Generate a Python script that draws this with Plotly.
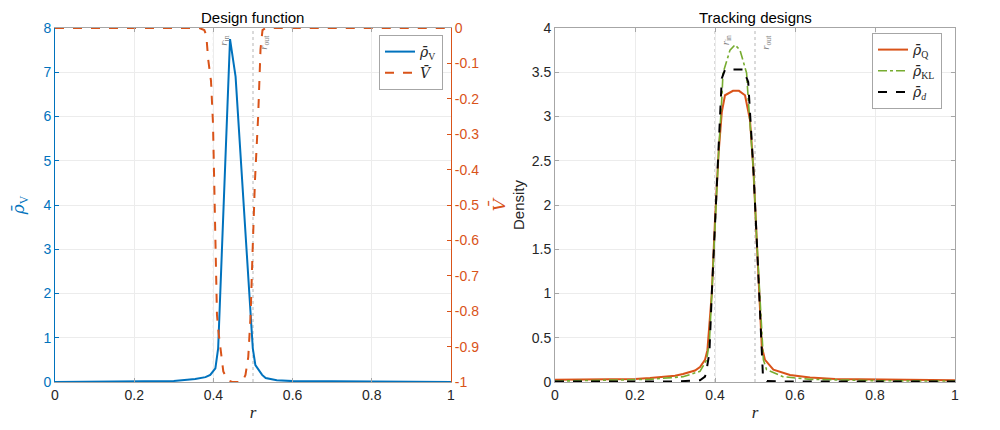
import plotly.graph_objects as go

# ---- left panel: design function ----
r_rho_v = [0, 0.1, 0.2, 0.3, 0.354, 0.38, 0.392, 0.405, 0.412, 0.442, 0.456,
           0.4995, 0.506, 0.523, 0.532, 0.56, 0.6, 0.7, 0.8, 0.9, 1.0]
rho_v = [0.002, 0.005, 0.01, 0.025, 0.07, 0.11, 0.16, 0.31, 0.76, 7.75, 6.9,
         0.76, 0.38, 0.16, 0.09, 0.04, 0.02, 0.01, 0.005, 0.003, 0.002]

r_v = [0, 0.3646, 0.377, 0.382, 0.387, 0.394, 0.399, 0.404, 0.409, 0.413, 0.418,
       0.425, 0.435, 0.447, 0.473, 0.481, 0.488, 0.491, 0.494, 0.499, 0.505,
       0.513, 0.516, 0.519, 0.524, 0.532, 1.0]
v = [0, 0, -0.006, -0.02, -0.09, -0.15, -0.27, -0.54, -0.81, -0.86, -0.9,
     -0.97, -0.994, -1, -1, -0.98, -0.93, -0.87, -0.81, -0.63, -0.43,
     -0.25, -0.15, -0.06, -0.006, 0, 0]

# ---- right panel: tracking designs ----
r_q = [0, 0.1, 0.2, 0.2375, 0.3, 0.32, 0.35, 0.3625, 0.375, 0.381, 0.392, 0.4,
       0.409, 0.417, 0.425, 0.445, 0.46, 0.475, 0.4875, 0.496, 0.504, 0.5125,
       0.517, 0.525, 0.546, 0.5875, 0.6375, 0.7, 0.8, 0.9, 1.0]
rho_q = [0.025, 0.028, 0.035, 0.045, 0.07, 0.09, 0.13, 0.17, 0.25, 0.36, 1.0, 1.83,
         2.59, 3.05, 3.24, 3.29, 3.29, 3.24, 2.96, 2.4, 1.64, 0.89,
         0.4, 0.25, 0.14, 0.08, 0.05, 0.035, 0.028, 0.022, 0.02]

r_kl = [0, 0.2, 0.2375, 0.32, 0.3625, 0.379, 0.386, 0.392, 0.4, 0.409, 0.417,
        0.42, 0.4375, 0.45, 0.4625, 0.479, 0.483, 0.496, 0.504, 0.5125, 0.517,
        0.521, 0.529, 0.57, 0.6375, 0.8, 1.0]
rho_kl = [0.01, 0.02, 0.03, 0.06, 0.12, 0.25, 0.45, 1.0, 1.83, 2.59, 3.2,
          3.49, 3.75, 3.81, 3.75, 3.49, 3.2, 2.4, 1.64, 0.89, 0.45,
          0.25, 0.14, 0.06, 0.03, 0.015, 0.01]

r_d = [0, 0.3, 0.3625, 0.375, 0.379, 0.386, 0.392, 0.4, 0.409, 0.417, 0.425,
       0.471, 0.483, 0.496, 0.504, 0.5125, 0.517, 0.52, 0.53, 0.6, 1.0]
rho_d = [0.005, 0.005, 0.02, 0.06, 0.14, 0.33, 1.0, 1.83, 2.59, 3.43, 3.53,
         3.53, 3.39, 2.4, 1.64, 0.89, 0.35, 0.06, 0.01, 0.005, 0.005]

r_in, r_out = 0.4, 0.5

rho_ticks = [0, 1, 2, 3, 4, 5, 6, 7, 8]
v_ticks = [0, -0.1, -0.2, -0.3, -0.4, -0.5, -0.6, -0.7, -0.8, -0.9, -1]
v_ticktext = ['0', '-0.1', '-0.2', '-0.3', '-0.4', '-0.5', '-0.6', '-0.7', '-0.8', '-0.9', '-1']
dens_ticks = [0, 0.5, 1, 1.5, 2, 2.5, 3, 3.5, 4]
x_ticks = [0, 0.2, 0.4, 0.6, 0.8, 1]

BLUE = '#0072BD'
ORANGE = '#D95319'
GREEN = '#77AC30'
AXC = '#a6a6a6'
TXT = '#262626'
GRID = '#ececec'
SANS = 'Liberation Sans, Arial, sans-serif'
SERIF = 'Liberation Serif, Times New Roman, serif'
RHOBAR = '<span style="font-family:DejaVu Serif"><i>ρ̄</i></span>'
VBAR = '<span style="font-family:DejaVu Serif"><i>V̄</i></span>'

# page pixel positions (the html body adds an 8px offset, compensated here)
OFF = 8
ML, MT = 55 - OFF, 28 - OFF
MB = 430 - (382 - OFF)
MR = 1000 - (955 - OFF)
PW = 1000 - ML - MR
PH = 430 - MT - MB


def px_x(p):
    return (p - OFF - ML) / PW


def px_y(p):
    return (430 - MB - (p - OFF)) / PH


fig = go.Figure()

fig.add_trace(go.Scatter(x=r_rho_v, y=rho_v, mode='lines', name=RHOBAR + '<sub>V</sub>',
                         line=dict(color=BLUE, width=2), xaxis='x', yaxis='y', legend='legend'))
fig.add_trace(go.Scatter(x=r_v, y=v, mode='lines', name=VBAR,
                         line=dict(color=ORANGE, width=2, dash='dash'), xaxis='x', yaxis='y2',
                         legend='legend'))

fig.add_trace(go.Scatter(x=r_q, y=rho_q, mode='lines', name=RHOBAR + '<sub>Q</sub>',
                         line=dict(color=ORANGE, width=2), xaxis='x2', yaxis='y3', legend='legend2'))
fig.add_trace(go.Scatter(x=r_kl, y=rho_kl, mode='lines', name=RHOBAR + '<sub>KL</sub>',
                         line=dict(color=GREEN, width=1.6, dash='dashdot'), xaxis='x2', yaxis='y3',
                         legend='legend2'))
fig.add_trace(go.Scatter(x=r_d, y=rho_d, mode='lines', name=RHOBAR + '<sub><i>d</i></sub>',
                         line=dict(color='black', width=2, dash='dash'), xaxis='x2', yaxis='y3',
                         legend='legend2'))

xcommon = dict(range=[0, 1], tickvals=x_ticks, showgrid=True, gridcolor=GRID, zeroline=False,
               showline=True, linecolor=AXC, linewidth=1, mirror='ticks', ticks='inside',
               ticklen=4, tickcolor=AXC, tickfont=dict(family=SANS, size=14, color=TXT),
               automargin=False,
               title=dict(text='<i>r</i>', font=dict(family=SERIF, size=17, color=TXT), standoff=4))

fig.update_layout(
    width=1000, height=430, autosize=False,
    margin=dict(l=ML, r=MR, t=MT, b=MB, autoexpand=False),
    paper_bgcolor='white', plot_bgcolor='white',
    xaxis=dict(domain=[0, px_x(451)], anchor='y', **xcommon),
    yaxis=dict(domain=[0, 1], anchor='x', range=[0, 8], tickvals=rho_ticks, showgrid=True,
               gridcolor=GRID, zeroline=False, showline=True, linecolor=BLUE, linewidth=1,
               ticks='inside', ticklen=4, tickcolor=BLUE, automargin=False,
               tickfont=dict(family=SANS, size=14, color=BLUE),
               title=dict(text=RHOBAR + '<sub>V</sub>', font=dict(family=SERIF, size=17, color=BLUE),
                          standoff=16)),
    yaxis2=dict(overlaying='y', side='right', anchor='x', range=[-1, 0], tickvals=v_ticks,
                ticktext=v_ticktext, showgrid=False, zeroline=False, showline=True,
                linecolor=ORANGE, linewidth=1, ticks='inside', ticklen=4, tickcolor=ORANGE,
                automargin=False, tickfont=dict(family=SANS, size=14, color=ORANGE),
                title=dict(text=VBAR, font=dict(family=SERIF, size=17, color=ORANGE),
                           standoff=14)),
    xaxis2=dict(domain=[px_x(555), 1], anchor='y3', **xcommon),
    yaxis3=dict(domain=[0, 1], anchor='x2', range=[0, 4], tickvals=dens_ticks, showgrid=True,
                gridcolor=GRID, zeroline=False, showline=True, linecolor=AXC, linewidth=1,
                mirror='ticks', ticks='inside', ticklen=4, tickcolor=AXC, automargin=False,
                tickfont=dict(family=SANS, size=14, color=TXT),
                title=dict(text='Density', font=dict(family=SANS, size=15, color=TXT), standoff=3)),
    legend=dict(x=px_x(443), y=px_y(35), xanchor='right', yanchor='top', bgcolor='white',
                bordercolor=AXC, borderwidth=1, font=dict(family=SERIF, size=14, color=TXT),
                tracegroupgap=0, itemwidth=30),
    legend2=dict(x=px_x(942), y=px_y(33), xanchor='right', yanchor='top', bgcolor='white',
                 bordercolor=AXC, borderwidth=1, font=dict(family=SERIF, size=14, color=TXT),
                 tracegroupgap=0, itemwidth=30),
    showlegend=True,
)

# reference lines r_in / r_out with labels
for xa, ya in [('x', 'y'), ('x2', 'y3')]:
    for xv, lab in [(r_in, 'in'), (r_out, 'out')]:
        fig.add_shape(type='line', xref=xa, yref=ya + ' domain', x0=xv, x1=xv, y0=0, y1=1,
                      line=dict(color='#b5b5b5', width=1, dash='dot'), layer='below')
        fig.add_annotation(xref=xa, yref=ya + ' domain', x=xv, y=0.985, xanchor='left',
                           yanchor='top', xshift=2, showarrow=False, textangle=-90,
                           text='<i>r</i><sub>' + lab + '</sub>',
                           font=dict(family=SERIF, size=11, color='#7f7f7f'))

# panel titles
fig.add_annotation(xref='paper', yref='paper', x=px_x(252), y=px_y(27), showarrow=False,
                   xanchor='center', yanchor='bottom', borderpad=0,
                   text='Design function', font=dict(family=SANS, size=15, color='black'))
fig.add_annotation(xref='paper', yref='paper', x=px_x(755), y=px_y(27), showarrow=False,
                   xanchor='center', yanchor='bottom', borderpad=0,
                   text='Tracking designs', font=dict(family=SANS, size=15, color='black'))

fig.write_html("out.html")
